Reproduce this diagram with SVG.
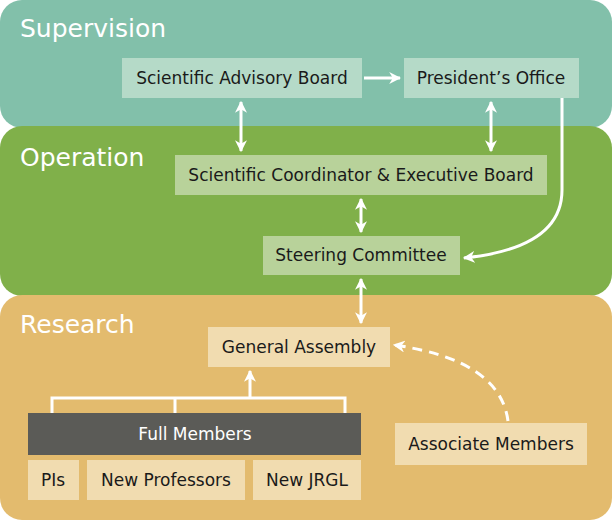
<svg xmlns="http://www.w3.org/2000/svg" width="612" height="520" viewBox="0 0 612 520">
<defs>
<marker id="ah" viewBox="0 0 10 10" refX="9" refY="5" markerWidth="4" markerHeight="4" orient="auto-start-reverse" markerUnits="strokeWidth"><path d="M0,0 L10,5 L0,10 L3,5 Z" fill="#fff"/></marker>
<style>
text{font-family:"DejaVu Sans","Noto Sans",sans-serif;font-size:17px;fill:#1a1a1a;text-anchor:middle}
.band{font-size:25px;fill:#fff;text-anchor:start}
.c{stroke:#fff;stroke-width:3;fill:none}
</style>
</defs>
<rect width="612" height="520" fill="#fff"/>
<rect x="0" y="0" width="612" height="128" rx="22" fill="#82c0aa"/>
<rect x="0" y="126" width="612" height="170" rx="22" fill="#80b04a"/>
<rect x="0" y="295" width="612" height="225" rx="22" fill="#e3bb6e"/>
<text class="band" x="20" y="37">Supervision</text>
<text class="band" x="20" y="166">Operation</text>
<text class="band" x="20" y="333">Research</text>
<g id="sab"><rect x="122" y="58" width="240" height="40" fill="#b5dac8"/><text x="242" y="84">Scientific Advisory Board</text></g>
<g id="po"><rect x="404" y="58" width="175" height="40" fill="#b5dac8"/><text x="491" y="84">President’s Office</text></g>
<g id="sceb"><rect x="175" y="155" width="372" height="40" fill="#b8d29a"/><text x="361" y="181">Scientific Coordinator &amp; Executive Board</text></g>
<g id="sc"><rect x="263" y="236" width="197" height="39" fill="#b8d29a"/><text x="361" y="261">Steering Committee</text></g>
<g id="ga"><rect x="208" y="327" width="182" height="40" fill="#f1dcb0"/><text x="299" y="353">General Assembly</text></g>
<g id="fm"><rect x="28" y="413" width="333" height="42" fill="#5b5b57"/><text x="195" y="440" style="fill:#fff">Full Members</text></g>
<g id="pis"><rect x="28" y="460" width="51" height="40" fill="#f1dcb0"/><text x="53" y="486">PIs</text></g>
<g id="np"><rect x="87" y="460" width="158" height="40" fill="#f1dcb0"/><text x="166" y="486">New Professors</text></g>
<g id="jrgl"><rect x="253" y="460" width="108" height="40" fill="#f1dcb0"/><text x="307" y="486">New JRGL</text></g>
<g id="am"><rect x="395" y="423" width="192" height="42" fill="#f1dcb0"/><text x="491" y="450">Associate Members</text></g>
<g id="connectors">
<path class="c" d="M364,78 H400" marker-end="url(#ah)"/>
<path class="c" d="M241,102 V151" marker-start="url(#ah)" marker-end="url(#ah)"/>
<path class="c" d="M491,102 V151" marker-start="url(#ah)" marker-end="url(#ah)"/>
<path class="c" d="M361,199 V232" marker-start="url(#ah)" marker-end="url(#ah)"/>
<path class="c" d="M361,279 V323" marker-start="url(#ah)" marker-end="url(#ah)"/>
<path class="c" d="M562,98 V190 Q562,248 464,258" marker-end="url(#ah)"/>
<path class="c" d="M52,413 V398 H345 V413 M175,398 V413 M250,398 V371" marker-end="url(#ah)"/>
<path class="c" d="M508,421 Q500,360 394,345" stroke-dasharray="10,7" marker-end="url(#ah)"/>
</g>
</svg>
